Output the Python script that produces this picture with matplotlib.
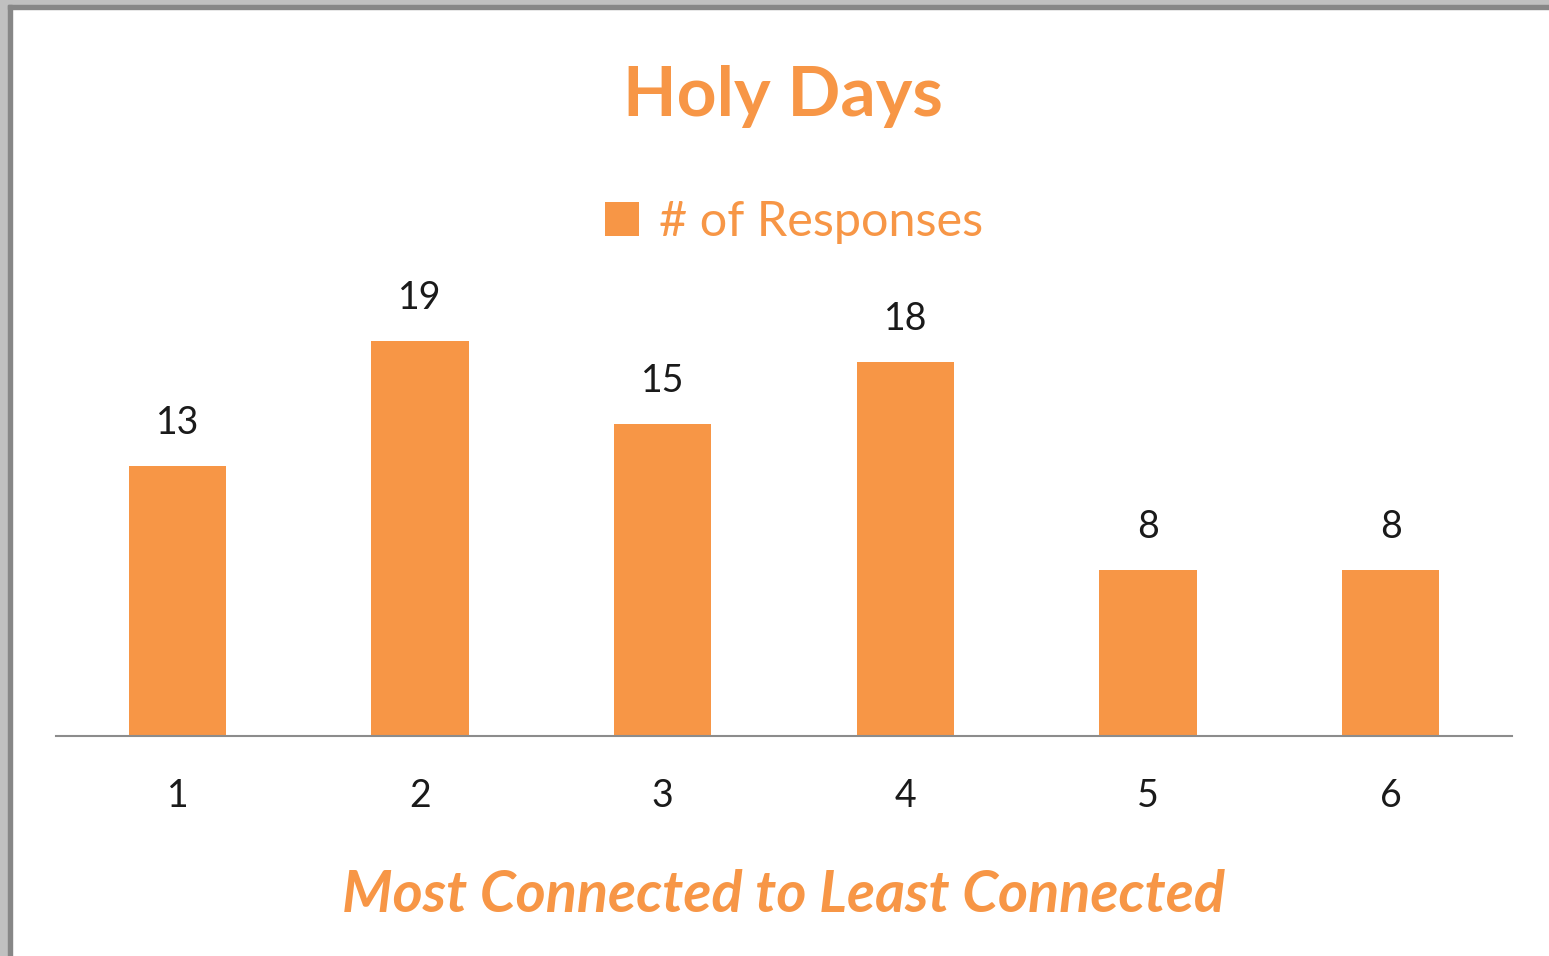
import matplotlib.pyplot as plt
from matplotlib.patches import Rectangle

categories = ['1', '2', '3', '4', '5', '6']
responses = [13, 19, 15, 18, 8, 8]
series_name = '# of Responses'
title = 'Holy Days'
xlabel = 'Most Connected to Least Connected'

orange = '#F79646'
W, H = 1549, 956

plt.rcParams['font.family'] = ['Lato', 'DejaVu Sans']

fig = plt.figure(figsize=(W / 100, H / 100), dpi=100, facecolor='white')

# window frame round the chart (screenshot edge)
fig.patches.append(Rectangle((0, 0), 8 / W, 1, transform=fig.transFigure, color='#c0c0c0', zorder=0))
fig.patches.append(Rectangle((0, 1 - 5 / H), 1, 5 / H, transform=fig.transFigure, color='#c0c0c0', zorder=0))
fig.patches.append(Rectangle((8 / W, 0), 4 / W, 1 - 5 / H, transform=fig.transFigure, color='#878787', zorder=0))
fig.patches.append(Rectangle((8 / W, 1 - 9 / H), 1 - 8 / W, 4 / H, transform=fig.transFigure, color='#878787', zorder=0))

ax = fig.add_axes([56 / W, (H - 736) / H, (1512 - 56) / W, 415.4 / H])
ax.set_facecolor('none')
x = range(len(categories))
bars = ax.bar(x, responses, width=0.4, color=orange, label=series_name, zorder=2)
ax.bar_label(bars, padding=18, fontsize=27, color='#1a1a1a')

ax.set_xlim(-0.5, len(categories) - 0.5)
ax.set_ylim(0, 20)
ax.set_xticks(list(x))
ax.set_xticklabels(categories, fontsize=27, color='#1a1a1a')
ax.set_yticks([])
ax.tick_params(axis='x', length=0, pad=30)
for s in ['top', 'right', 'left']:
    ax.spines[s].set_visible(False)
ax.spines['bottom'].set_color('#8c8c8c')
ax.spines['bottom'].set_linewidth(1.5)

fig.text(783 / W, (H - 116) / H, title, ha='center', va='baseline',
         fontsize=50, fontweight='bold', color=orange)
fig.text(784 / W, (H - 912) / H, xlabel, ha='center', va='baseline',
         fontsize=41.5, fontweight='bold', fontstyle='italic', color=orange)

leg = fig.legend(loc='center', bbox_to_anchor=(794 / W, (H - 222) / H), frameon=False,
                 fontsize=35, handlelength=0.7, handleheight=0.7, handletextpad=0.4)
for t in leg.get_texts():
    t.set_color(orange)

fig.savefig('out.png', dpi=100, facecolor='white')
